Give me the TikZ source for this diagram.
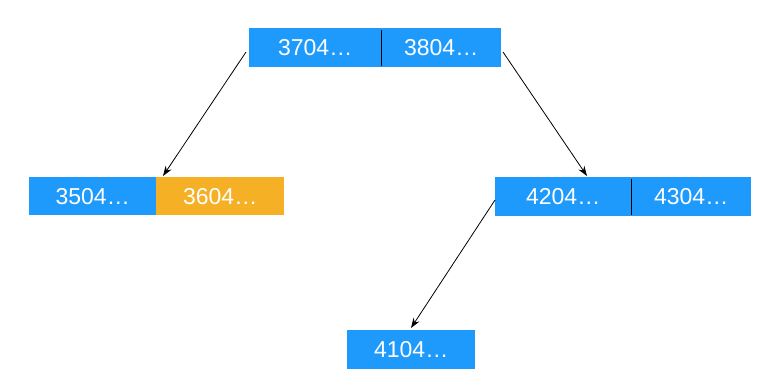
\documentclass[tikz,border=0pt]{standalone}
\usepackage{fontspec}
\setmainfont{Liberation Sans}
\usetikzlibrary{arrows.meta}
\definecolor{cellblue}{RGB}{30,154,252}
\definecolor{cellorange}{RGB}{245,176,38}
\begin{document}
\begin{tikzpicture}[x=1pt,y=-1pt,
  cell/.style={draw=none, inner sep=0pt, minimum height=39pt, text=white,
    font=\fontsize{23}{23}\selectfont, anchor=north west},
  divider/.style={black, line width=0.8pt},
  arr/.style={black, line width=0.8pt, -{Stealth[length=10pt,width=7pt]}}]
\useasboundingbox[fill=white] (0,0) rectangle (775,385);
% top
\node[cell,fill=cellblue,minimum width=132pt] (a1) at (249,28) {3704…};
\node[cell,fill=cellblue,minimum width=120pt] (a2) at (381,28) {3804…};
\draw[divider] ([yshift=-2pt]a1.north east) -- ([yshift=1pt]a1.south east);
% left
\node[cell,fill=cellblue,minimum width=127pt,minimum height=38pt] (b1) at (29,177) {3504…};
\node[cell,fill=cellorange,minimum width=128pt,minimum height=38pt] (b2) at (156,177) {3604…};
% right
\node[cell,fill=cellblue,minimum width=136pt] (c1) at (495,177) {4204…};
\node[cell,fill=cellblue,minimum width=120pt] (c2) at (631,177) {4304…};
\draw[divider] ([yshift=-2pt]c1.north east) -- ([yshift=1pt]c1.south east);
% bottom
\node[cell,fill=cellblue,minimum width=128pt] (d1) at (347,330) {4104…};
% arrow ends
\coordinate (s1) at (246,52);
\coordinate (e1) at (163,176);
\coordinate (s2) at (503,52);
\coordinate (e2) at (587,176);
\coordinate (s3) at (495,200);
\coordinate (e3) at (411,328);
\draw[arr] (s1) -- (e1);
\draw[arr] (s2) -- (e2);
\draw[arr] (s3) -- (e3);
\end{tikzpicture}
\end{document}
